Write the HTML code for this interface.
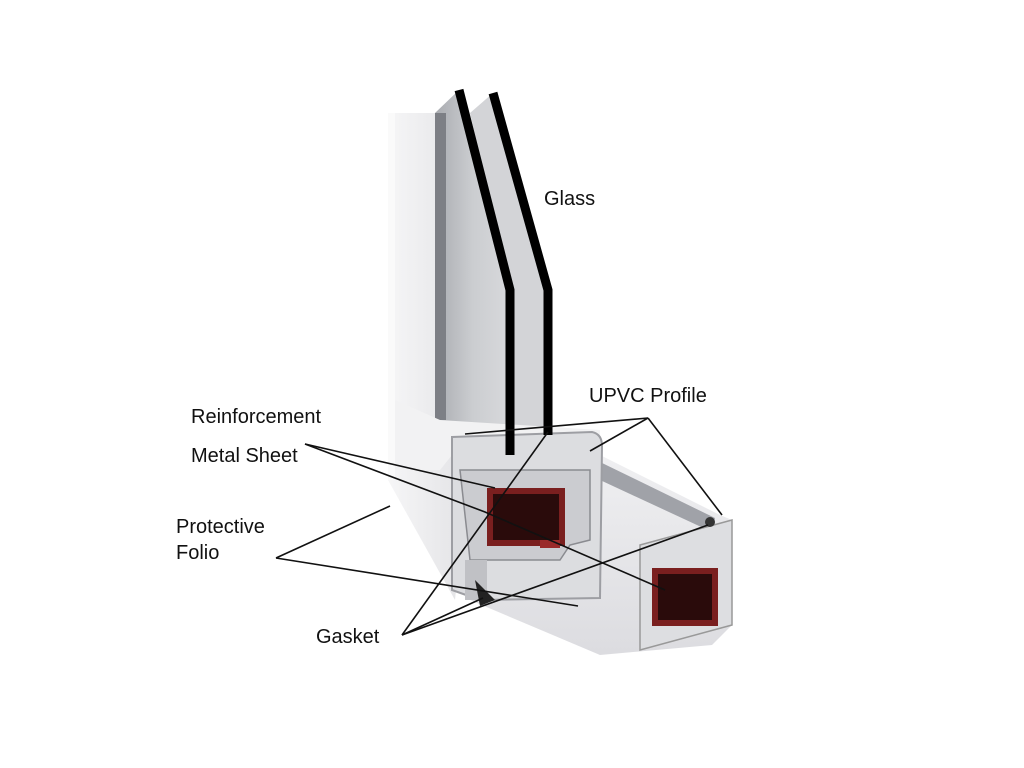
<!DOCTYPE html>
<html><head><meta charset="utf-8"><style>
html,body{margin:0;padding:0;background:#fff;}
svg{display:block}
text{font-family:"Liberation Sans",sans-serif;font-size:20px;fill:#111}
</style></head><body>
<svg width="1024" height="768" viewBox="0 0 1024 768" xmlns="http://www.w3.org/2000/svg">
<defs>
<linearGradient id="fr" x1="0" x2="1"><stop offset="0" stop-color="#f6f6f7"/><stop offset="1" stop-color="#e2e2e5"/></linearGradient>
<linearGradient id="gl" x1="0" x2="1"><stop offset="0" stop-color="#a9abb0"/><stop offset="0.5" stop-color="#cbcdd0"/><stop offset="1" stop-color="#d8d9dc"/></linearGradient>
<linearGradient id="sill" x1="0" y1="0" x2="0" y2="1"><stop offset="0" stop-color="#f0f0f2"/><stop offset="1" stop-color="#dcdce0"/></linearGradient>
</defs>
<polygon points="388,113 440,113 440,420 470,445 455,600 388,480" fill="url(#fr)"/>
<polygon points="388,113 395,113 395,480 388,480" fill="#fafafa"/>
<polygon points="435,113 459,90 510,290 510,450 435,420" fill="url(#gl)"/>
<polygon points="470,113 493,93 548,290 548,432 510,440 510,290" fill="#d3d4d7"/>
<polygon points="435,113 446,113 446,420 435,420" fill="#7d7f85"/>
<polygon points="395,400 440,420 600,430 600,445 460,445 440,470 395,470" fill="#f2f2f3"/>
<polygon points="590,450 720,515 732,520 732,625 712,645 600,655 470,600 470,560" fill="url(#sill)"/>
<polygon points="600,462 715,518 712,532 600,480" fill="#a0a2a8"/>
<path d="M452,437 L592,432 Q602,434 602,446 L600,598 L480,600 L452,590 Z" fill="#dcdde0" stroke="#9d9ea3" stroke-width="2"/>
<path d="M460,470 L590,470 L590,540 L570,545 L560,560 L470,560 Z" fill="#cbccd0" stroke="#8a8b90" stroke-width="1.5"/>
<rect x="487" y="488" width="78" height="58" fill="#7a1f1f"/>
<rect x="493" y="494" width="66" height="46" fill="#2a0b0b"/>
<rect x="540" y="540" width="20" height="8" fill="#9a2a2a"/>
<rect x="465" y="560" width="22" height="40" fill="#c0c1c5"/>
<path d="M475,580 L495,600 L480,606 Z" fill="#222"/>
<polygon points="640,545 732,520 732,625 640,650" fill="#dddee1" stroke="#999" stroke-width="1.5"/>
<rect x="652" y="568" width="66" height="58" fill="#7a1f1f"/>
<rect x="658" y="574" width="54" height="46" fill="#2a0b0b"/>
<circle cx="710" cy="522" r="5" fill="#333"/>
<polyline points="459,90 510,290 510,455" fill="none" stroke="#000" stroke-width="9"/>
<polyline points="493,93 548,290 548,435" fill="none" stroke="#000" stroke-width="9"/>
<g stroke="#111" stroke-width="1.6" fill="none">
<line x1="305" y1="444" x2="495" y2="488"/>
<polyline points="305,444 485,512 665,590"/>
<line x1="276" y1="558" x2="390" y2="506"/>
<line x1="276" y1="558" x2="578" y2="606"/>
<line x1="402" y1="635" x2="483" y2="598"/>
<line x1="402" y1="635" x2="548" y2="432"/>
<line x1="402" y1="635" x2="708" y2="525"/>
<line x1="465" y1="434" x2="648" y2="418"/>
<line x1="648" y1="418" x2="590" y2="451"/>
<line x1="648" y1="418" x2="722" y2="515"/>
</g>
<text x="544" y="205">Glass</text>
<text x="589" y="402">UPVC Profile</text>
<text x="191" y="423">Reinforcement</text>
<text x="191" y="462">Metal Sheet</text>
<text x="176" y="533">Protective</text>
<text x="176" y="559">Folio</text>
<text x="316" y="643">Gasket</text>
</svg>
</body></html>
